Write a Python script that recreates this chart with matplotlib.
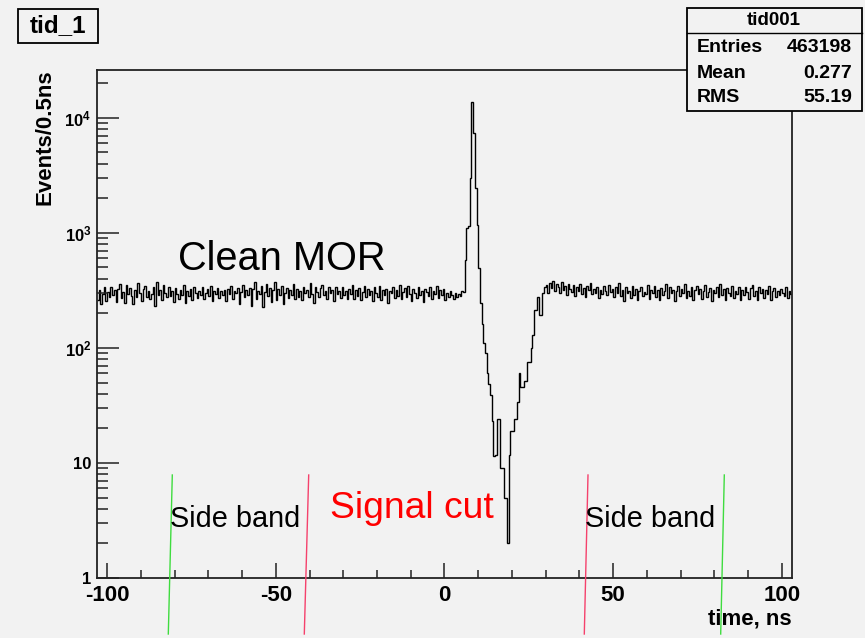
import numpy as np
import matplotlib
matplotlib.use("Agg")
import matplotlib.pyplot as plt
from matplotlib.patches import Rectangle
from matplotlib.lines import Line2D
from matplotlib.ticker import LogLocator, NullFormatter, MultipleLocator

plt.rcParams['font.family'] = ['Liberation Sans', 'DejaVu Sans']
plt.rcParams['mathtext.fontset'] = 'custom'
plt.rcParams['mathtext.bf'] = 'Liberation Sans:bold'
plt.rcParams['mathtext.rm'] = 'Liberation Sans'
plt.rcParams['axes.unicode_minus'] = False

# %% histogram contents, 0.5 ns bins starting at -103 ns
t_start = -103.0
bin_width = 0.5

# flat accidental background before the prompt peak (-103 .. 6 ns)
counts_left = [
    262, 318, 241, 296, 335, 258, 304, 276, 341, 289,
    318, 252, 327, 362, 271, 305, 247, 352, 296, 330,
    284, 239, 318, 277, 366, 301, 258, 322, 345, 279,
    311, 268, 296, 339, 233, 372, 290, 318, 262, 351,
    302, 276, 340, 281, 314, 249, 330, 296, 268, 321,
    290, 355, 244, 309, 282, 327, 261, 338, 299, 274,
    315, 287, 340, 266, 301, 322, 284, 347, 258, 310,
    296, 332, 271, 309, 286, 318, 255, 322, 291, 342,
    267, 310, 298, 329, 243, 305, 351, 279, 316, 288,
    334, 231, 322, 372, 268, 310, 294, 342, 226, 306,
    357, 283, 330, 250, 318, 377, 262, 326, 290, 345,
    239, 300, 331, 271, 316, 290, 358, 268, 325, 279,
    312, 260, 341, 297, 318, 276, 364, 292, 247, 337,
    305, 276, 329, 355, 288, 311, 268, 341, 298, 320,
    253, 336, 295, 314, 272, 340, 289, 311, 264, 328,
    295, 352, 267, 318, 281, 332, 259, 306, 347, 276,
    322, 290, 309, 256, 335, 301, 278, 348, 262, 317,
    288, 326, 245, 310, 297, 338, 270, 319, 283, 352,
    264, 307, 331, 279, 346, 294, 258, 322, 300, 271,
    335, 286, 312, 249, 327, 305, 281, 338, 266, 309,
    296, 344, 273, 318, 290, 326, 262, 301, 279, 312,
    287, 268, 301, 279, 296, 284, 312, 305,
]

# prompt peak and the dip after it (6 .. 29.5 ns)
counts_peak = [
    585, 1100, 1150, 2990, 13800, 7360, 2450, 1170, 495, 245,
    160, 110, 90, 60, 49, 39, 23, 11.5, 11.7, 24,
    24, 9, 9, 5, 5, 2, 11.7, 19, 19, 24,
    24, 34, 60, 46, 46, 52, 52, 76, 76, 100,
    130, 214, 214, 279, 194, 194, 299,
]

# background after the dip (29.5 .. 103 ns)
counts_right = [
    338, 352, 301, 366, 329, 384, 312, 358, 341, 297,
    372, 318, 344, 290, 361, 327, 305, 349, 284, 336,
    311, 357, 296, 330, 278, 342, 318, 365, 291, 325,
    302, 339, 271, 318, 296, 344, 313, 287, 352, 306,
    328, 279, 341, 300, 366, 285, 319, 258, 335, 297,
    312, 273, 346, 290, 326, 262, 314, 339, 281, 305,
    296, 354, 268, 321, 302, 343, 276, 318, 261, 332,
    290, 309, 356, 271, 337, 298, 320, 253, 315, 346,
    282, 324, 300, 361, 270, 309, 285, 338, 262, 317,
    345, 291, 327, 266, 312, 352, 279, 304, 331, 258,
    318, 298, 340, 275, 356, 289, 322, 263, 330, 301,
    284, 346, 271, 315, 296, 338, 259, 321, 290, 336,
    305, 268, 329, 352, 281, 313, 262, 340, 297, 324,
    271, 318, 294, 347, 262, 309, 330, 278, 315, 289,
    322, 300, 285, 336, 274, 311, 296,
]

counts = np.array(counts_left + counts_peak + counts_right, dtype=float)
edges = t_start + bin_width * np.arange(len(counts) + 1)

x_ticks = [-100, -50, 0, 50, 100]
x_tick_labels = ['-100', '-50', '0', '50', '100']
y_ticks = [1, 10, 100, 1000, 10000]
y_tick_labels = ['1', '10', r'$\mathbf{10^{2}}$', r'$\mathbf{10^{3}}$', r'$\mathbf{10^{4}}$']

hist_name = 'tid001'
stat_names = ['Entries', 'Mean', 'RMS']
stat_values = ['463198', '0.277', '55.19']

# cut boundaries (figure pixels, top -> bottom)
sideband_lines = [((172.3, 475), (168.3, 634)), ((724.3, 475), (720.7, 634))]
signal_lines = [((308.7, 475), (304.3, 634)), ((588.0, 475), (584.3, 634))]

# %% figure
W, H = 865, 638
bg = '#f2f2f2'
fig = plt.figure(figsize=(W / 100, H / 100), dpi=100, facecolor=bg)


def fx(px):
    return px / W


def fy(py):
    return 1 - py / H


ax = fig.add_axes([fx(97), fy(578), fx(792) - fx(97), fy(70) - fy(578)])
ax.set_facecolor(bg)
ax.stairs(counts, edges, baseline=None, color='black', lw=1.0)
ax.set_yscale('log')
ax.set_xlim(edges[0], edges[-1])
ax.set_ylim(1, 2.6e4)

ax.set_xticks(x_ticks)
ax.set_xticklabels(x_tick_labels, fontweight='bold', fontsize=16)
ax.xaxis.set_minor_locator(MultipleLocator(10))
ax.set_yticks(y_ticks)
ax.set_yticklabels(y_tick_labels, fontweight='bold', fontsize=12)
ax.yaxis.set_minor_locator(LogLocator(base=10, subs=np.arange(2, 10)))
ax.yaxis.set_minor_formatter(NullFormatter())

ax.tick_params(axis='both', which='both', direction='in', top=False, right=False,
               color='#222222', width=1.1)
ax.tick_params(axis='x', which='major', length=10.5, pad=5)
ax.tick_params(axis='x', which='minor', length=5.5)
ax.tick_params(axis='y', which='major', length=15.5, pad=4)
ax.tick_params(axis='y', which='minor', length=8)
for s in ax.spines.values():
    s.set_linewidth(1.3)
    s.set_color('#222222')

# axis titles, ROOT style: at the ends of the axes
fig.text(fx(45), fy(69), 'Events/0.5ns', rotation=90, ha='center', va='top',
         fontsize=16, fontweight='bold')
fig.text(fx(792), fy(619), 'time, ns', ha='right', va='center',
         fontsize=16, fontweight='bold')

# annotations
fig.text(fx(178), fy(270), 'Clean MOR', fontsize=28.6, color='black', va='baseline')
fig.text(fx(330), fy(518), 'Signal cut', fontsize=26.8, color='#ff0000', va='baseline')
fig.text(fx(170), fy(527), 'Side band', fontsize=20.8, color='black', va='baseline')
fig.text(fx(585), fy(527), 'Side band', fontsize=20.8, color='black', va='baseline')

for (x0, y0), (x1, y1) in sideband_lines:
    fig.add_artist(Line2D([fx(x0), fx(x1)], [fy(y0), fy(y1)], color='#3fdc3f', lw=1))
for (x0, y0), (x1, y1) in signal_lines:
    fig.add_artist(Line2D([fx(x0), fx(x1)], [fy(y0), fy(y1)], color='#f5416c', lw=1))

# title box
fig.add_artist(Rectangle((fx(18), fy(43)), fx(98) - fx(18), fy(9) - fy(43),
                         facecolor=bg, edgecolor='black', lw=1.3, zorder=5))
fig.text(fx(58), fy(26), 'tid_1', ha='center', va='center', fontsize=17.5,
         fontweight='bold', zorder=6)

# statistics box
fig.add_artist(Rectangle((fx(687), fy(111)), fx(862) - fx(687), fy(8) - fy(111),
                         facecolor=bg, edgecolor='black', lw=1.3, zorder=5))
fig.add_artist(Line2D([fx(687), fx(862)], [fy(33), fy(33)], color='black', lw=1, zorder=6))
fig.text(fx(774), fy(20.5), hist_name, ha='center', va='center', fontsize=13.5,
         fontweight='bold', zorder=6)
for i, (name, val) in enumerate(zip(stat_names, stat_values)):
    yy = fy(48 + 25 * i)
    fig.text(fx(697), yy, name, ha='left', va='center', fontsize=14,
             fontweight='bold', zorder=6)
    fig.text(fx(852), yy, val, ha='right', va='center', fontsize=14,
             fontweight='bold', zorder=6)

fig.savefig('out.png', dpi=100, facecolor=bg)
